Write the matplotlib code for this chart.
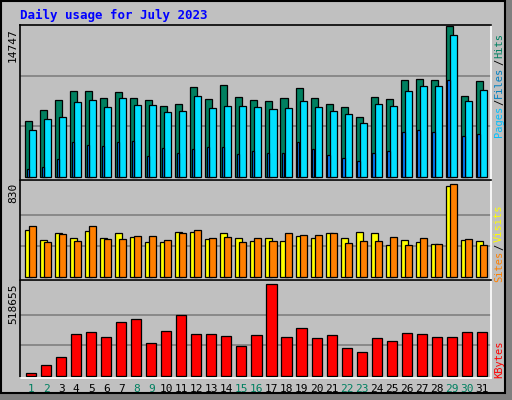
import numpy as np
import matplotlib
matplotlib.use("Agg")
import matplotlib.pyplot as plt

days = np.arange(1, 32)
hits = [5407, 6489, 7540, 8424, 8424, 7734, 8325, 7734, 7540, 6948, 7143, 8816, 7635, 9013, 7832, 7540,
        7442, 7734, 8720, 7734, 7143, 6850, 5866, 7832, 7635, 9505, 9603, 9505, 14747, 7930, 9406]
files = [4588, 5668, 5866, 7340, 7540, 6850, 7734, 7045, 7045, 6357, 6455, 7930, 6751, 6948, 6948, 6850,
         6653, 6751, 7442, 6850, 6455, 6160, 5276, 7143, 6948, 8424, 8914, 8914, 13830, 7442, 8521]
pages = [757, 953, 1740, 3411, 3116, 3018, 3411, 3509, 2035, 2821, 2330, 2723, 2919, 2919, 2232, 2527,
         2330, 2330, 3411, 2723, 2133, 1838, 1543, 2330, 2527, 4394, 4588, 4394, 9505, 4000, 4198]
sites = [417, 327, 390, 345, 408, 345, 390, 354, 309, 309, 399, 399, 336, 390, 345, 318,
         345, 318, 363, 345, 390, 345, 399, 390, 282, 327, 309, 291, 812, 327, 318]
visits = [453, 309, 381, 318, 453, 336, 336, 363, 363, 327, 390, 417, 345, 354, 309, 345,
          318, 390, 372, 372, 390, 300, 318, 318, 354, 282, 345, 291, 830, 336, 282]
kbytes = [15144, 58683, 104115, 234732, 246090, 217695, 302880, 319917, 183621, 251769, 342633,
          234732, 234732, 223374, 166584, 229053, 518655, 217695, 268806, 212016, 229053, 155226,
          132510, 212016, 194979, 240411, 234732, 217695, 217695, 246090, 246090]
weekend = {1, 2, 8, 9, 15, 16, 22, 23, 29, 30}

W, H = 512, 400
BG = "#C0C0C0"
fig = plt.figure(figsize=(W / 100, H / 100), dpi=100)
fig.patch.set_facecolor(BG)

def px_axes(x0, y0, x1, y1):
    return fig.add_axes([x0 / W, 1 - y1 / H, (x1 - x0) / W, (y1 - y0) / H])

# outer border and shadow
fig.add_artist(plt.Rectangle((505 / W, 0), 7 / W, 1, color="#808080", transform=fig.transFigure))
fig.add_artist(plt.Rectangle((0, 0), 1, 7 / H, color="#808080", transform=fig.transFigure))
fig.add_artist(plt.Rectangle((0.5 / W, 7 / H), 504 / W, 392 / H, fill=False, ec="black", lw=1.5,
                             transform=fig.transFigure))

def style(ax, ymax, ylo, ytop):
    ax.set_facecolor(BG)
    ax.set_xlim(0.27, 31.6)
    ax.set_ylim(ylo, ytop)
    for v in (ymax / 3, 2 * ymax / 3):
        ax.axhline(v, color="#808080", lw=1.2, zorder=0)
    ax.set_xticks([])
    ax.set_yticks([])
    for s in ax.spines.values():
        s.set_linewidth(1.2)
    ax.spines["bottom"].set_color("white")
    ax.spines["right"].set_color("white")

kw = dict(edgecolor="black", linewidth=0.9, align="edge")

ax1 = px_axes(20.3, 25, 490.7, 180)
style(ax1, 14747, -330, 14845)
ax1.bar(days - 0.4, hits, 0.467, color="#008060", **kw)
ax1.bar(days - 0.133, files, 0.467, color="#00E0FF", **kw)
ax1.bar(days - 0.306, pages, 0.17, color="#0080FF", **kw)

ax2 = px_axes(20.3, 180, 490.7, 280)
style(ax2, 830, -30, 868)
ax2.bar(days - 0.4, sites, 0.467, color="#FFFF00", **kw)
ax2.bar(days - 0.133, visits, 0.467, color="#FF8000", **kw)

ax3 = px_axes(20.3, 280, 490.7, 378)
style(ax3, 518655, -13000, 543700)
ax3.bar(days, kbytes, 0.67, color="#FF0000", edgecolor="black", linewidth=0.9)

for d in days:
    ax3.text(d, -0.06, str(d), transform=ax3.get_xaxis_transform(), ha="center", va="top",
             fontsize=8, family="DejaVu Sans Mono", color="#008060" if d in weekend else "black")

fig.text(20 / W, 1 - 15 / H, "Daily usage for July 2023", color="#0000FF", fontsize=9,
         family="DejaVu Sans Mono", weight="bold", va="center")

for y, lab in ((28, "14747"), (183, "830"), (283, "518655")):
    fig.text(13 / W, 1 - y / H, lab, rotation=90, ha="center", va="top", fontsize=8,
             family="DejaVu Sans Mono")

renderer = fig.canvas.get_renderer()

def side_label(y_bottom, parts):
    y = y_bottom
    for txt, col in parts:
        t = fig.text(499 / W, 1 - y / H, txt, rotation=90, ha="center", va="bottom",
                     fontsize=7.5, family="DejaVu Sans Mono", color=col)
        y -= t.get_window_extent(renderer).height + 1

side_label(137, [("Pages", "#00C0FF"), ("/", "black"), ("Files", "#0080C0"),
                 ("/", "black"), ("Hits", "#008060")])
side_label(282, [("Sites", "#FF8000"), ("/", "black"), ("Visits", "#FFFF00")])
side_label(378, [("KBytes", "#FF0000")])

fig.savefig("out.png", dpi=100, facecolor=BG)
